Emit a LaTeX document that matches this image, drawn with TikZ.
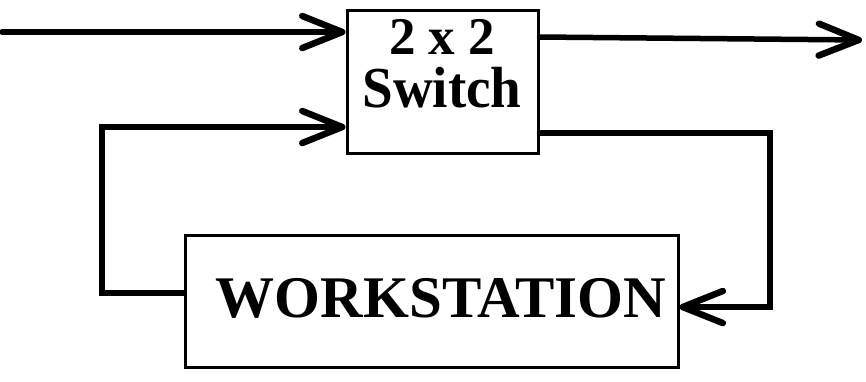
\documentclass[tikz,border=0pt]{standalone}
\usepackage{fontspec}
\setmainfont{Liberation Serif}
\usetikzlibrary{arrows.meta}
\begin{document}
\begin{tikzpicture}[x=1pt,y=-1pt,
  box/.style={draw,line width=3pt,inner sep=0pt,font=\bfseries},
  conn/.style={line width=5.5pt,line cap=round,line join=miter},
  arr/.style={conn,-{Straight Barb[length=40pt,width=32pt,line width=6.5pt,round]}}]
\useasboundingbox (0,0) rectangle (866,381);
\node[box,minimum width=191pt,minimum height=143pt] (sw) at (442.5,81.5) {};
\node[font=\bfseries\fontsize{53}{53}\selectfont] (t1) at (442,37) {2 x 2};
\node[font=\bfseries\fontsize{58}{58}\selectfont,xscale=0.95] (t2) at (442,88) {Switch};
\node[box,minimum width=493pt,minimum height=132pt] (ws) at (431.5,301) {};
\node[font=\bfseries\fontsize{59}{59}\selectfont] (t3) at (441,298) {WORKSTATION};
\coordinate (in1) at (2,32);
\coordinate (out1) at (862,40);
\draw[arr] (in1) -- (sw.west |- in1);
\draw[arr] (sw.east |- 0,37) -- (out1);
\coordinate (la) at (102,293);
\coordinate (lb) at (102,127);
\draw[arr] (ws.west |- la) -- (la) -- (lb) -- (sw.west |- lb);
\coordinate (ra) at (770,133);
\coordinate (rb) at (770,307);
\draw[arr] (sw.east |- ra) -- (ra) -- (rb) -- (ws.east |- rb);
\end{tikzpicture}
\end{document}
